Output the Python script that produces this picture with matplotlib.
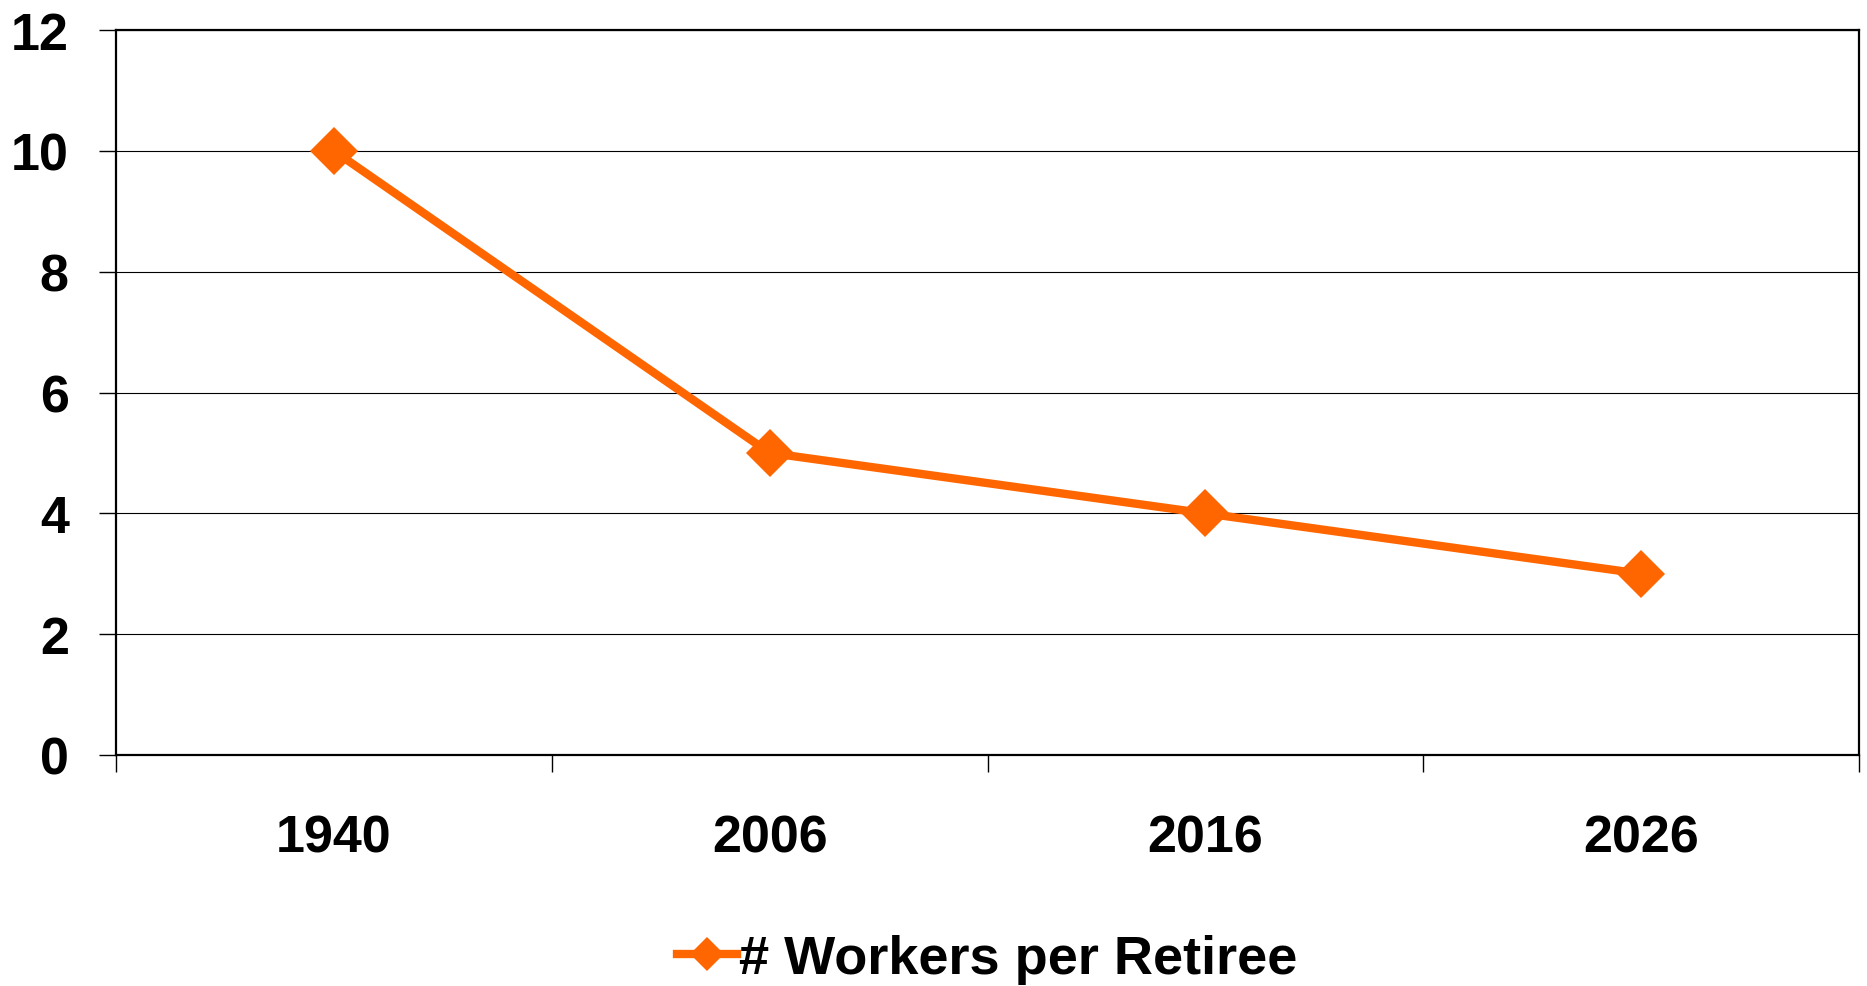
import numpy as np
import matplotlib
matplotlib.use('Agg')
from matplotlib import pyplot as plt

# data
years = ['1940', '2006', '2016', '2026']
workers = [10, 5, 4, 3]
yticks = [0, 2, 4, 6, 8, 10, 12]

plt.rcParams['font.family'] = ['Liberation Sans', 'DejaVu Sans']
plt.rcParams['font.weight'] = 'bold'

fig = plt.figure(figsize=(18.67, 9.87), dpi=100)
ax = fig.add_axes([116/1867, 1 - 756/987, (1859 - 116)/1867, (756 - 31)/987])

x = np.arange(len(years))
ax.plot(x, workers, color='#FF6600', linewidth=6, marker='D', markersize=24,
        markeredgewidth=0, label='# Workers per Retiree', zorder=3)

ax.set_xlim(-0.5, len(years) - 0.5)
ax.set_ylim(0, 12)

# category boundaries as major ticks, labels at centres
ax.set_xticks(np.arange(-0.5, len(years)))
ax.set_xticklabels([])
ax.set_xticks(x, minor=True)
ax.set_xticklabels(years, minor=True)
ax.tick_params(axis='x', which='major', length=12, width=1, direction='out')
ax.tick_params(axis='x', which='minor', length=0, pad=42, labelsize=37.5)

ax.set_yticks(yticks)
ax.set_yticklabels([str(v) for v in yticks])
ax.tick_params(axis='y', length=12, width=1, direction='out', pad=22, labelsize=37.5)

ax.yaxis.grid(True, color='black', linewidth=0.8)
ax.set_axisbelow(True)
for s in ax.spines.values():
    s.set_linewidth(1.6)
    s.set_color('black')

ax.legend(loc='center', bbox_to_anchor=(0.5, (987 - 960 - (987 - 756)) / (756 - 31)),
          frameon=False, fontsize=39, handlelength=1.1, handletextpad=0.05,
          markerscale=0.72, borderaxespad=0)

fig.savefig('out.png', dpi=100)
